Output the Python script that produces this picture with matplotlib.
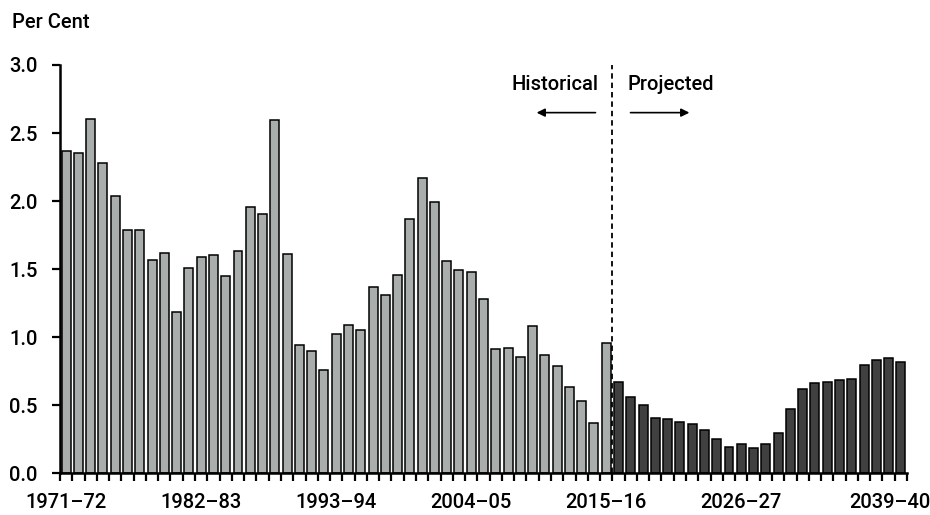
import matplotlib
matplotlib.use("Agg")
import matplotlib.pyplot as plt
import matplotlib.transforms as mtransforms
import numpy as np

plt.rcParams['font.family'] = ['Roboto', 'Liberation Sans', 'DejaVu Sans']
FW = 'medium'
FS = 14.5

historical = [2.365, 2.355, 2.605, 2.28, 2.034, 1.784, 1.784, 1.568, 1.615, 1.186,
              1.512, 1.586, 1.603, 1.448, 1.63, 1.953, 1.904, 2.593, 1.608, 0.946,
              0.895, 0.76, 1.027, 1.086, 1.056, 1.372, 1.311, 1.458, 1.87, 2.169,
              1.997, 1.563, 1.497, 1.478, 1.284, 0.916, 0.921, 0.857, 1.083, 0.872,
              0.791, 0.632, 0.534, 0.367, 0.956]
projected = [0.674, 0.563, 0.50, 0.404, 0.402, 0.38, 0.36, 0.316, 0.25, 0.191,
             0.218, 0.184, 0.215, 0.299, 0.47, 0.617, 0.664, 0.674, 0.688, 0.691,
             0.794, 0.833, 0.85, 0.816]
start_year = 1971
tick_label_years = [1971, 1982, 1993, 2004, 2015, 2026, 2039]
y_ticks = [0.0, 0.5, 1.0, 1.5, 2.0, 2.5, 3.0]

n_hist = len(historical)
n_proj = len(projected)
n = n_hist + n_proj
years = [start_year + i for i in range(n)]
labels = [f"{y}\u2013{str(y + 1)[-2:]}" for y in years]

fig = plt.figure(figsize=(9.3, 5.15), dpi=100)
ax = fig.add_axes([60/930, 1 - 473.3/515, 847/930, 408.3/515])

xh = np.arange(n_hist) + 0.5
xp = np.arange(n_hist, n) + 0.5
ax.bar(xh, historical, width=0.73, color='#a9adac', edgecolor='black', linewidth=1.1, zorder=2)
ax.bar(xp, projected, width=0.73, color='#404040', edgecolor='black', linewidth=1.1, zorder=2)

ax.set_xlim(0, n)
ax.set_ylim(0, 3.0)

ax.set_xticks(np.arange(0, n + 1), minor=True)
ax.tick_params(axis='x', which='minor', direction='out', length=6, width=1.6, color='black')
pos = [years.index(y) + 0.5 for y in tick_label_years]
ax.set_xticks(pos)
ax.set_xticklabels([labels[years.index(y)] for y in tick_label_years])
ax.tick_params(axis='x', which='major', length=0, pad=14.5, labelsize=FS)
for lab in ax.get_xticklabels():
    lab.set_fontweight(FW)
last = ax.get_xticklabels()[-1]
last.set_transform(last.get_transform() + mtransforms.ScaledTranslation(-11/100, 0, fig.dpi_scale_trans))

ax.set_yticks(y_ticks)
ax.set_yticklabels([f"{v:.1f}" for v in y_ticks], fontweight=FW)
ax.tick_params(axis='y', direction='out', length=6, width=1.6, labelsize=FS, pad=10)

for s in ['top', 'right']:
    ax.spines[s].set_visible(False)
for s in ['left', 'bottom']:
    ax.spines[s].set_linewidth(1.8)

ax.axvline(n_hist, ymin=0, ymax=1, color='black', linestyle=(0, (3, 2.2)), linewidth=1.3, zorder=3)

ax.text(n_hist - 1.1, 2.855, 'Historical', ha='right', va='center', fontsize=FS, fontweight=FW)
ax.text(n_hist + 1.25, 2.855, 'Projected', ha='left', va='center', fontsize=FS, fontweight=FW)
ax.annotate('', xy=(n_hist - 6.4, 2.65), xytext=(n_hist - 1.15, 2.65),
            arrowprops=dict(arrowstyle='-|>', color='black', lw=1.2, mutation_scale=12))
ax.annotate('', xy=(n_hist + 6.5, 2.65), xytext=(n_hist + 1.25, 2.65),
            arrowprops=dict(arrowstyle='-|>', color='black', lw=1.2, mutation_scale=12))

fig.text(12/930, 1 - 22/515, 'Per Cent', ha='left', va='center', fontsize=FS, fontweight=FW)

fig.savefig('out.png', dpi=100)
